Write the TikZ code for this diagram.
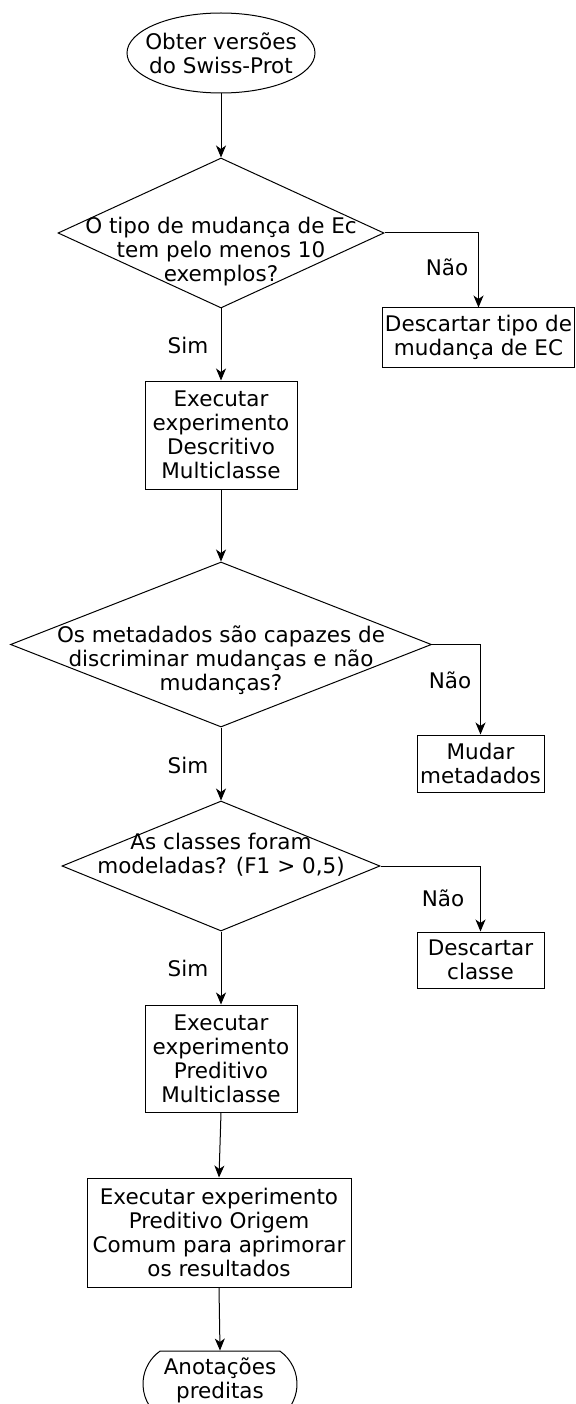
\documentclass[tikz,border=0pt]{standalone}
\usepackage{fontspec}
\setmainfont{DejaVu Sans}
\usetikzlibrary{shapes.geometric,shapes.misc,arrows.meta}
\begin{document}
\begin{tikzpicture}[x=1pt,y=-1pt,
  font=\fontsize{21.5}{24}\selectfont,
  line width=1pt,
  box/.style={draw, rectangle, inner sep=0pt, align=center},
  dia/.style={draw, diamond, inner sep=0pt},
  txt/.style={align=center, inner sep=0pt},
  arr/.style={-{Stealth[length=12pt,width=10pt,inset=3.5pt]}}]
\useasboundingbox (0,0) rectangle (575,1404);

% start
\node[draw, ellipse, minimum width=188pt, minimum height=80pt, inner sep=0pt] (start) at (221,53) {};
\node[txt] (startt) at (221,53) {Obter versões\\do Swiss-Prot};

% decision 1
\node[dia, minimum width=326pt, minimum height=150pt] (d1) at (221,233) {};
\node[txt] (d1t) at (221,252) {O tipo de mudança de Ec\\tem pelo menos 10\\exemplos?};
\node[box, minimum width=192pt, minimum height=59pt] (nd1) at (478.5,337.5) {Descartar tipo de\\mudança de EC};
\node (n1) at (447,267) {Não};
\node (s1) at (188,345) {Sim};

% exec 1
\node[box, minimum width=152pt, minimum height=108pt] (e1) at (221,435) {Executar\\experimento\\Descritivo\\Multiclasse};

% decision 2
\node[dia, minimum width=421pt, minimum height=165pt] (d2) at (221,644.5) {};
\node[txt] (d2t) at (221,660) {Os metadados são capazes de\\discriminar mudanças e não\\mudanças?};
\node[box, minimum width=127pt, minimum height=57pt] (nd2) at (480.5,763.5) {Mudar\\metadados};
\node (n2) at (450,680) {Não};
\node (s2) at (188,765) {Sim};

% decision 3
\node[dia, minimum width=318pt, minimum height=130pt] (d3) at (221,866) {};
\node[txt] (d3t) at (221,855) {As classes foram\\modeladas? (F1 > 0,5)};
\node[box, minimum width=127pt, minimum height=56pt] (nd3) at (480.5,960) {Descartar\\classe};
\node (n3) at (443,898) {Não};
\node (s3) at (188,968) {Sim};

% exec 2, 3
\node[box, minimum width=152pt, minimum height=107pt] (e2) at (221,1058.5) {Executar\\experimento\\Preditivo\\Multiclasse};
\node[box, minimum width=264pt, minimum height=109pt] (e3) at (219,1232.5) {Executar experimento\\Preditivo Origem\\Comum para aprimorar\\os resultados};

% end
\node[draw, rounded rectangle, rounded rectangle arc length=110, minimum width=154pt, minimum height=66pt, inner sep=0pt] (fim) at (220,1384) {};
\node[txt] (fimt) at (220,1380) {Anotações\\preditas};

% connectors
\draw[arr] (start.south) -- (d1.north);
\draw[arr] (d1.east) -| (nd1.north);
\draw[arr] (d1.south) -- (e1.north);
\draw[arr] (e1.south) -- (d2.north);
\draw[arr] (d2.east) -| (nd2.north);
\draw[arr] (d2.south) -- (d3.north);
\draw[arr] (d3.east) -| (nd3.north);
\draw[arr] (d3.south) -- (e2.north);
\draw[arr] (e2.south) -- (e3.north);
\draw[arr] (e3.south) -- (fim.north);
\end{tikzpicture}
\end{document}
